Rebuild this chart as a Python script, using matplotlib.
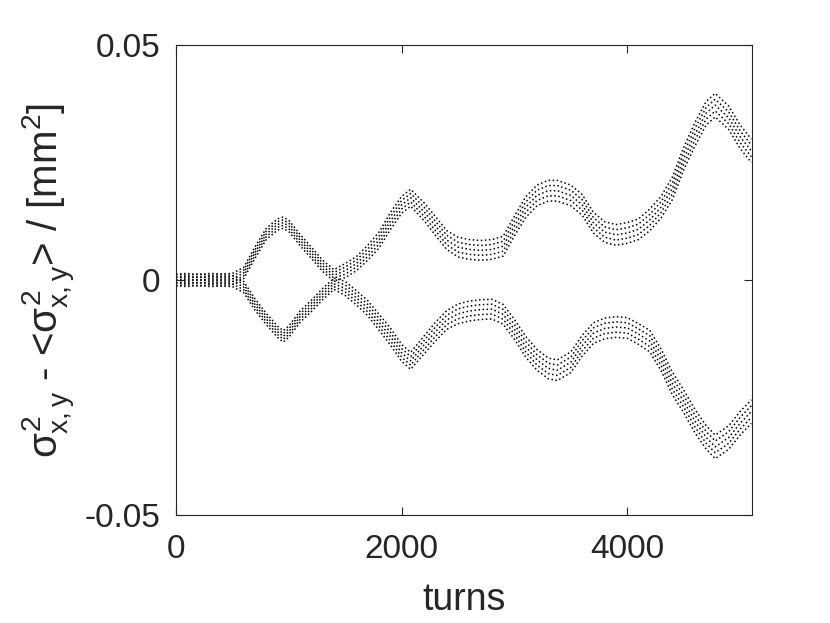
import matplotlib
matplotlib.use("Agg")
import matplotlib.pyplot as plt
import numpy as np

plt.rcParams['font.family'] = ['Liberation Sans', 'DejaVu Sans']
plt.rcParams['mathtext.fontset'] = 'custom'
plt.rcParams['mathtext.rm'] = 'Liberation Sans'
plt.rcParams['mathtext.it'] = 'Liberation Sans'

# --- data (band centre of each curve) ---
turns = [0, 100, 200, 300, 400, 500, 600, 700, 800, 900, 950, 1000, 1100, 1200,
         1300, 1400, 1500, 1600, 1700, 1800, 1900, 2000, 2080, 2200, 2300, 2400,
         2500, 2600, 2700, 2800, 2900, 3000, 3100, 3200, 3300, 3380, 3500, 3600,
         3700, 3800, 3900, 4000, 4100, 4200, 4300, 4400, 4500, 4600, 4700, 4780,
         4900, 5000, 5100]

sigma_x = [0.0, 0.0002, -0.0001, 0.0002, 0.0001, 0.0002, 0.0015, 0.0058, 0.0098,
           0.0118, 0.0122, 0.0115, 0.0085, 0.0058, 0.0030, 0.0010, 0.0020, 0.0035,
           0.0058, 0.0085, 0.0125, 0.0160, 0.0175, 0.0145, 0.0115, 0.0085, 0.0070,
           0.0065, 0.0063, 0.0065, 0.0072, 0.0115, 0.0155, 0.0180, 0.0190, 0.0190,
           0.0180, 0.0160, 0.0122, 0.0102, 0.0096, 0.0100, 0.0108, 0.0128, 0.0155,
           0.0195, 0.0258, 0.0310, 0.0355, 0.0372, 0.0345, 0.0305, 0.0275]

sigma_y = [0.0, -0.0002, 0.0001, -0.0002, -0.0001, -0.0002, -0.0015, -0.0052,
           -0.0083, -0.0110, -0.0120, -0.0110, -0.0078, -0.0055, -0.0030, -0.0008,
           -0.0018, -0.0038, -0.0060, -0.0090, -0.0120, -0.0155, -0.0172, -0.0138,
           -0.0110, -0.0085, -0.0072, -0.0066, -0.0063, -0.0062, -0.0073, -0.0105,
           -0.0142, -0.0170, -0.0188, -0.0192, -0.0175, -0.0140, -0.0113, -0.0103,
           -0.0100, -0.0102, -0.0115, -0.0130, -0.0170, -0.0220, -0.0258, -0.0300,
           -0.0335, -0.0355, -0.0335, -0.0305, -0.0280]

# half width of the dotted band
band = [0.0012, 0.0012, 0.0012, 0.0012, 0.0012, 0.0012, 0.0012, 0.0012, 0.0012,
        0.0012, 0.0012, 0.0012, 0.0012, 0.0012, 0.0012, 0.0012, 0.0015, 0.0015,
        0.0016, 0.0017, 0.0018, 0.0018, 0.0018, 0.0019, 0.0020, 0.0020, 0.0021,
        0.0021, 0.0021, 0.0021, 0.0021, 0.0021, 0.0022, 0.0022, 0.0022, 0.0022,
        0.0022, 0.0022, 0.0022, 0.0022, 0.0022, 0.0022, 0.0022, 0.0023, 0.0023,
        0.0024, 0.0024, 0.0025, 0.0025, 0.0025, 0.0025, 0.0025, 0.0025]

t = np.array(turns)
sx = np.array(sigma_x)
sy = np.array(sigma_y)
hw = np.array(band)

txt = '#262626'
fig = plt.figure(figsize=(8.3, 6.23), dpi=100)
ax = fig.add_axes([176 / 830, 1 - 515 / 623, 576 / 830, 470 / 623])

for c in (sx, sy):
    for off in (-1, -0.5, 0, 0.5, 1):
        ax.plot(t, c + off * hw, color='black', linestyle=':', linewidth=1.1)

ax.set_xlim(0, 5106)
ax.set_ylim(-0.05, 0.05)
ax.set_xticks([0, 2000, 4000])
ax.set_yticks([-0.05, 0, 0.05])
ax.set_yticklabels(['-0.05', '0', '0.05'])
ax.tick_params(direction='in', length=6, width=0.8, top=True, right=True,
               labelsize=24, colors=txt, pad=11)
ax.tick_params(axis='x', pad=14)
for s in ax.spines.values():
    s.set_color(txt)
    s.set_linewidth(0.8)

ax.set_xlabel('turns', fontsize=27, color=txt, labelpad=12)
ax.set_ylabel(r'$\sigma^2_{x,y}$ - <$\sigma^2_{x,y}$> / [mm$^2$]', fontsize=29,
              color=txt, labelpad=6)

fig.savefig('out.png', dpi=100)
